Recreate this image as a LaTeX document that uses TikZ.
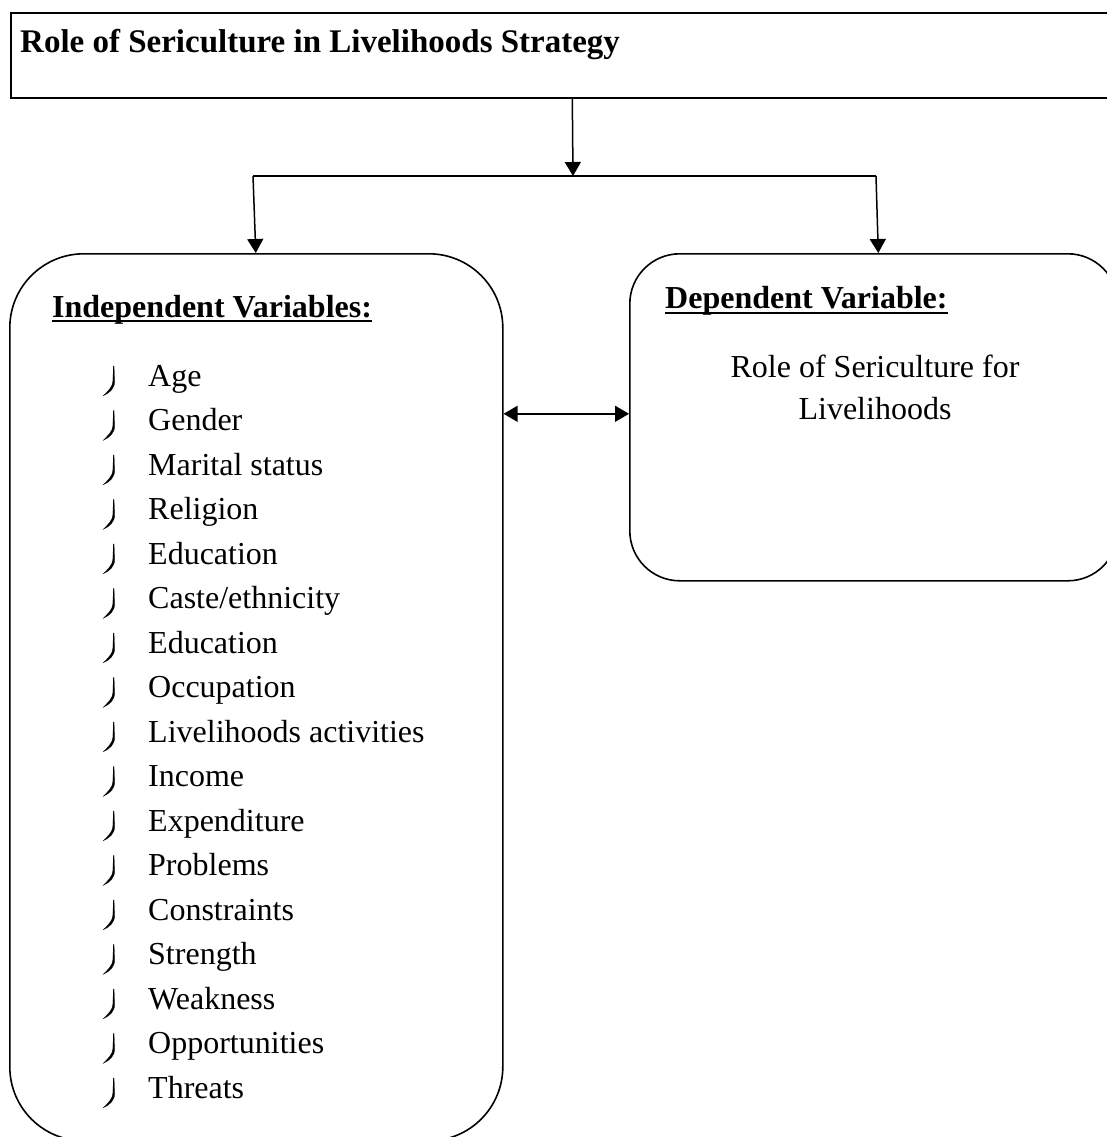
\documentclass[tikz,border=0pt]{standalone}
\usepackage{fontspec}
\setmainfont{Liberation Serif}
\usetikzlibrary{arrows.meta}
\begin{document}
\begin{tikzpicture}[x=1pt,y=-1pt,
  boxline/.style={draw=black, line width=1.6pt},
  txt/.style={inner sep=0pt, anchor=base west, font=\fontsize{32}{42}\selectfont},
  hdr/.style={txt, font=\fontsize{32}{42}\selectfont\bfseries},
  arr/.style={line width=1.5pt, -{Triangle[length=14pt,width=16pt]}},
  darr/.style={line width=1.5pt, {Triangle[length=14pt,width=16pt]}-{Triangle[length=14pt,width=16pt]}},
  bul/.style={fill=black, draw=black, line width=0.2pt},
  uline/.style={line width=2pt}]
\useasboundingbox (0,0) rectangle (1107,1137);
% top box
\node[boxline, rectangle, minimum width=1110pt, minimum height=85pt, anchor=north west, inner sep=0pt] (top) at (10,12) {};
\node[hdr, font=\fontsize{33}{42}\selectfont\bfseries] (title) at (20,53) {Role of Sericulture in Livelihoods Strategy};
% lower boxes
\node[boxline, rounded corners=74pt, minimum width=493pt, minimum height=887pt, anchor=north west, inner sep=0pt] (ind) at (9,253) {};
\node[boxline, rounded corners=50pt, minimum width=488pt, minimum height=327pt, anchor=north west, inner sep=0pt] (dep) at (629,253) {};
% fork
\coordinate (fork) at (573,176);
\coordinate (forkL) at (253,176);
\coordinate (forkR) at (876,176);
\draw[arr] ([xshift=6.5pt]top.south) -- (fork);
\draw[line width=1.5pt] (forkL) -- (forkR);
\draw[arr] (forkL) -- ([xshift=-0.5pt]ind.north);
\draw[arr] (forkR) -- ([xshift=4.5pt]dep.north);
\draw[darr] ([yshift=3.5pt]dep.west -| ind.east) -- ([yshift=3.5pt]dep.west);
% headers
\node[hdr] (indh) at (52,317) {Independent Variables:};
\draw[uline] ([yshift=-4pt]indh.base west) -- ([yshift=-4pt]indh.base east);
\node[hdr] (deph) at (665,308) {Dependent Variable:};
\draw[uline] ([yshift=-5pt]deph.base west) -- ([yshift=-5pt]deph.base east);
% dependent text
\node[txt, anchor=base] (dt1) at (875,377) {Role of Sericulture for};
\node[txt, anchor=base] (dt2) at (875,419) {Livelihoods};
% list
\foreach \t [count=\i from 0] in {Age,Gender,Marital status,Religion,Education,Caste/ethnicity,Education,Occupation,Livelihoods activities,Income,Expenditure,Problems,Constraints,Strength,Weakness,Opportunities,Threats}{
  \node[txt] (it\i) at (148,{386+44.5*\i}) {\t};
  \path[bul, shift={(0,{386+44.5*\i})}] (113.3,-20) -- (114.0,-20) -- (114.7,-5) .. controls (114.7,2.5) and (110,6.8) .. (103.2,9.8) .. controls (108,5) and (112.6,1) .. (112.9,-5) -- cycle;
}
\end{tikzpicture}
\end{document}
